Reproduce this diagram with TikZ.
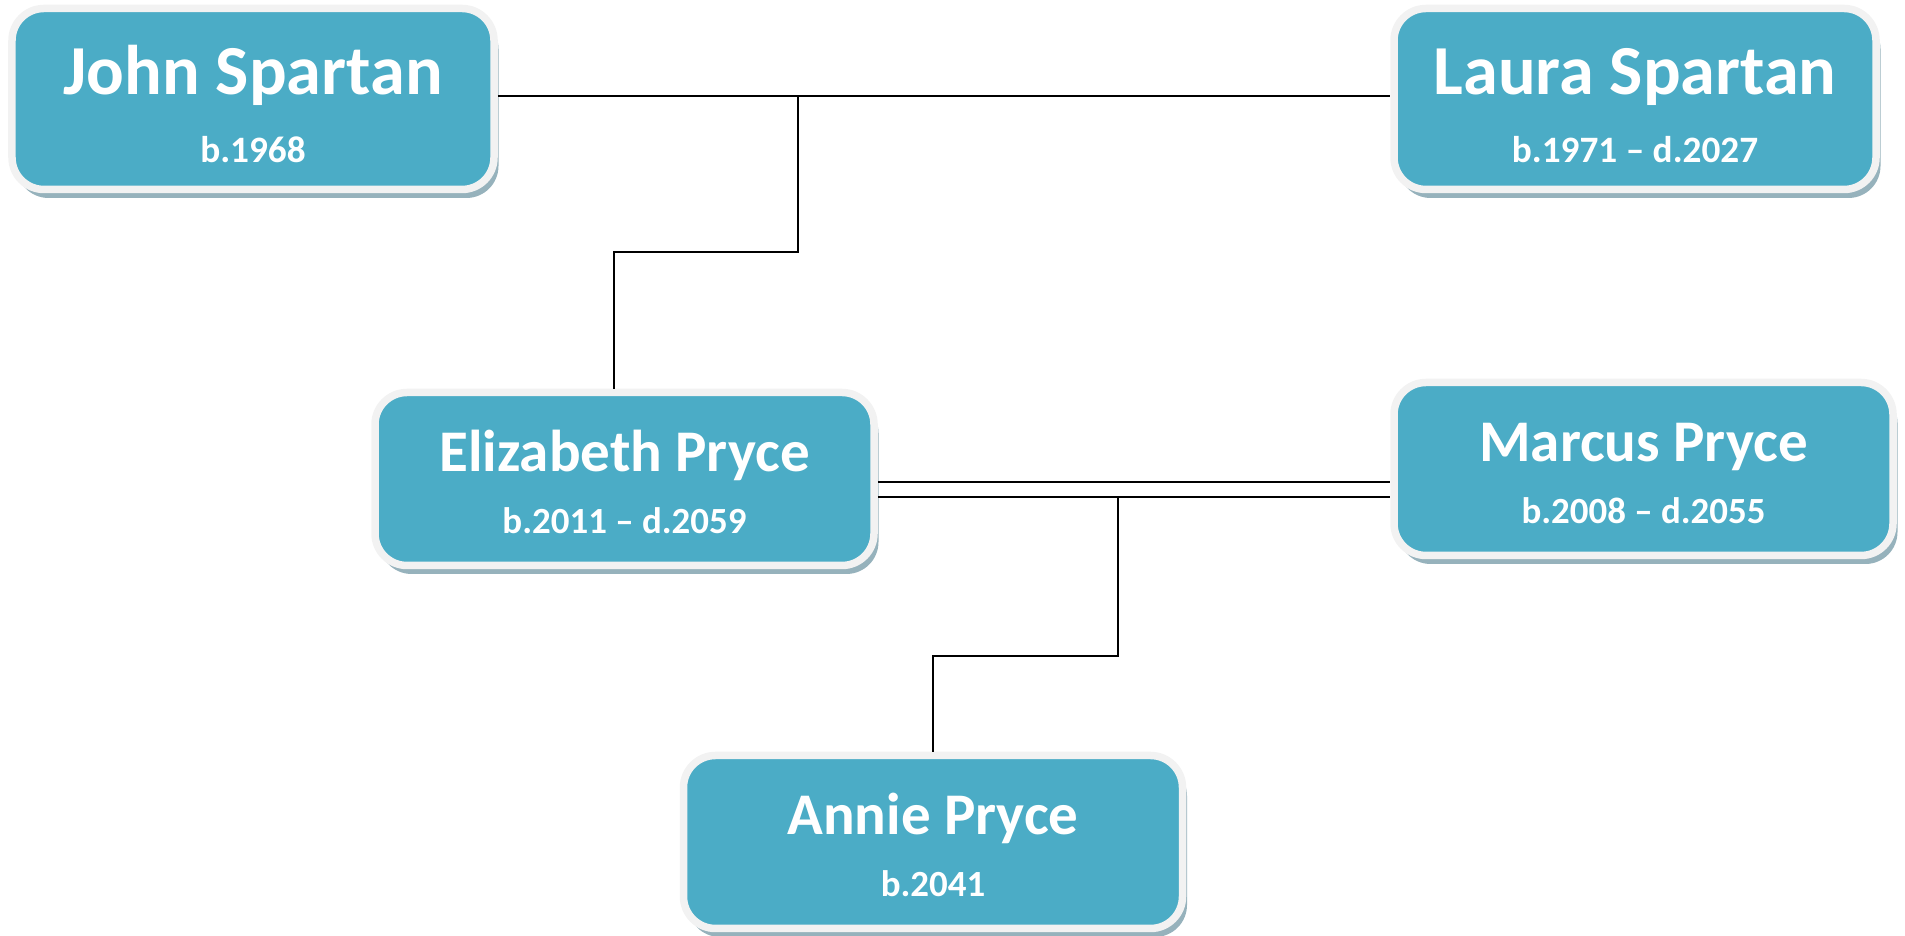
\documentclass[tikz,border=0pt]{standalone}
\usepackage{fontspec}
\setmainfont{Carlito}
\usepackage{xcolor}
\usetikzlibrary{shadows}
\definecolor{card}{RGB}{75,172,198}
\definecolor{rim}{RGB}{242,242,242}
\definecolor{cardshadow}{RGB}{150,178,188}
\newcommand{\eldername}{\rule{0pt}{17pt}\fontsize{20}{19.3}\selectfont}
\newcommand{\kinname}{\rule{0pt}{13.5pt}\fontsize{16.8}{17.7}\selectfont}
\tikzstyle{person}=[rectangle, rounded corners=0.32cm, draw=rim, line width=0.075cm, fill=card,
  text=white, align=center,
  drop shadow={shadow xshift=0.045cm, shadow yshift=-0.085cm, fill=cardshadow, opacity=1}]
\tikzstyle{elder}=[person, minimum width=4.82cm, minimum height=1.81cm,
  font=\bfseries\fontsize{10.6}{19.3}\selectfont]
\tikzstyle{kin}=[person, minimum width=4.99cm, minimum height=1.73cm,
  font=\bfseries\fontsize{10.5}{17.7}\selectfont]
\tikzstyle{link}=[line width=0.45pt, black]

\begin{document}
\begin{tikzpicture}
  \useasboundingbox (0,0) rectangle (19.05,9.36);
  \draw (2.53,8.37) node[elder] (John) {\eldername John Spartan\\b.1968};
  \draw (16.35,8.37) node[elder] (Laura) {\eldername Laura Spartan\\b.1971 -- d.2027};

  \draw (6.245,4.57) node[kin] (Elizabeth) {\kinname Elizabeth Pryce\\b.2011 -- d.2059};
  \draw (16.435,4.67) node[kin] (Marcus) {\kinname Marcus Pryce\\b.2008 -- d.2055};

  \draw (9.33,0.94) node[kin] (Annie) {\kinname Annie Pryce\\b.2041};

  %% Spartan couple and their daughter
  \coordinate (JL) at ([yshift=0.3mm]John.east);
  \coordinate (JLdrop) at (7.98,0 |- JL);
  \draw[link] (JL) -- (JL -| Laura.west);
  \draw[link] (JLdrop) -- ++(0,-1.56) -| ([xshift=-1.05mm]Elizabeth.north);

  %% Pryce couple and their daughter
  \coordinate (EMtop) at ([yshift=-0.3mm]Elizabeth.east);
  \coordinate (EMbot) at ([yshift=-1.8mm]Elizabeth.east);
  \coordinate (EMdrop) at (11.18,0 |- EMbot);
  \draw[link] (EMtop) -- (EMtop -| Marcus.west);
  \draw[link] (EMbot) -- (EMbot -| Marcus.west);
  \draw[link] (EMdrop) -- ++(0,-1.59) -| (Annie.north);
\end{tikzpicture}
\end{document}
